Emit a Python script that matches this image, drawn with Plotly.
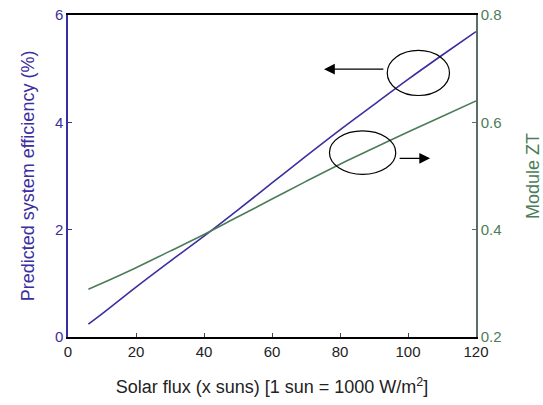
import plotly.graph_objects as go

solar_flux = [6, 10, 20, 30, 40, 50, 60, 70, 80, 90, 100, 110, 120]
efficiency = [0.24, 0.43, 0.93, 1.41, 1.88, 2.37, 2.87, 3.37, 3.86, 4.33, 4.80, 5.25, 5.69]
module_zt = [0.289, 0.300, 0.329, 0.360, 0.391, 0.424, 0.457, 0.490, 0.522, 0.552, 0.582, 0.611, 0.640]

x_ticks = [0, 20, 40, 60, 80, 100, 120]
eff_ticks = [0, 2, 4, 6]
zt_ticks = [0.2, 0.4, 0.6, 0.8]

BLUE = "#3b2fa0"
GREEN = "#4c7d58"
FONT = "Liberation Sans, Arial, sans-serif"

fig = go.Figure()
fig.add_trace(go.Scatter(x=solar_flux, y=efficiency, mode="lines", line_shape="spline",
                         line=dict(color=BLUE, width=1.6), showlegend=False))
fig.add_trace(go.Scatter(x=solar_flux, y=module_zt, mode="lines", yaxis="y2", line_shape="spline",
                         line=dict(color=GREEN, width=1.6), showlegend=False))

fig.update_layout(
    width=543, height=405,
    margin=dict(l=68, r=67, t=15, b=68),
    paper_bgcolor="white", plot_bgcolor="white",
    font=dict(family=FONT, size=15, color="black"),
    xaxis=dict(range=[0, 120], tickvals=x_ticks, ticks="inside", ticklen=4,
               showline=True, linecolor="black", linewidth=1.5, mirror=True,
               showgrid=False, zeroline=False, automargin=False,
               tickfont=dict(size=15, color="#222"),
               title=dict(text="Solar flux (x suns) [1 sun = 1000 W/m<sup>2</sup>]",
                          font=dict(size=18, color="#222"), standoff=22)),
    yaxis=dict(range=[0, 6], tickvals=eff_ticks, ticks="inside", ticklen=4,
               tickcolor=BLUE, showline=True, linecolor=BLUE, linewidth=1.5,
               showgrid=False, zeroline=False, automargin=False,
               tickfont=dict(size=15, color=BLUE),
               title=dict(text="Predicted system efficiency (%)",
                          font=dict(size=18, color=BLUE), standoff=16)),
    yaxis2=dict(range=[0.2, 0.8], tickvals=zt_ticks, ticks="inside", ticklen=4,
                tickcolor="#5a6e64", overlaying="y", side="right",
                showline=True, linecolor="#5a6e64", linewidth=1.5,
                showgrid=False, zeroline=False, automargin=False,
                tickfont=dict(size=15, color=GREEN),
                title=dict(text="Module ZT", font=dict(size=18, color=GREEN), standoff=26)),
)

fig.add_shape(type="circle", xref="x", yref="y", x0=93.9, x1=112.2, y0=4.50, y1=5.34,
              line=dict(color="black", width=1.2))
fig.add_shape(type="circle", xref="x", yref="y", x0=76.9, x1=96.4, y0=3.03, y1=3.84,
              line=dict(color="black", width=1.2))

fig.add_annotation(x=75.3, y=4.99, ax=93.2, ay=4.99, xref="x", yref="y",
                   axref="x", ayref="y", text="", showarrow=True,
                   arrowhead=2, arrowsize=1.8, arrowwidth=1.2, arrowcolor="black")
fig.add_annotation(x=106.5, y=3.33, ax=97.1, ay=3.33, xref="x", yref="y",
                   axref="x", ayref="y", text="", showarrow=True,
                   arrowhead=2, arrowsize=1.8, arrowwidth=1.2, arrowcolor="black")

fig.write_html("out.html", config={"displayModeBar": False},
               post_script="document.body.style.margin='0';")
